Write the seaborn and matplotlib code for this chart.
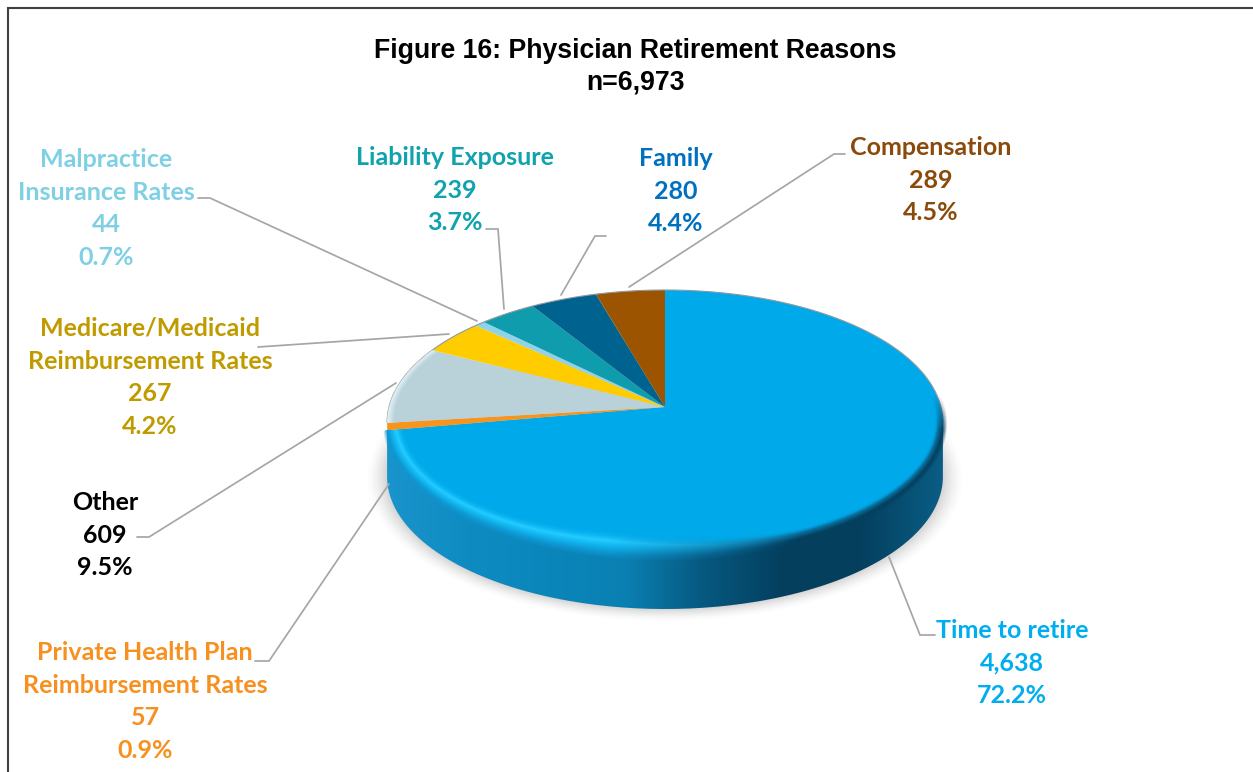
'''Figure 16 pie, drawn as a tilted 3D disc'''
import numpy as np
import matplotlib
matplotlib.use('Agg')
import matplotlib.pyplot as plt
from matplotlib.colors import to_rgb
from matplotlib.path import Path
from matplotlib.patches import PathPatch
from matplotlib.transforms import Transform
import seaborn as sns

#region data
TITLE = ['Figure 16: Physician Retirement Reasons', 'n=6,973']
REASONS = ['Time to retire', 'Private Health Plan\nReimbursement Rates', 'Other',
           'Medicare/Medicaid\nReimbursement Rates', 'Malpractice\nInsurance Rates',
           'Liability Exposure', 'Family', 'Compensation']
COUNTS = [4638, 57, 609, 267, 44, 239, 280, 289]
PERCENTS = ['72.2%', '0.9%', '9.5%', '4.2%', '0.7%', '3.7%', '4.4%', '4.5%']
SLICE_COLOURS = ['#00A9EA', '#F7941E', '#B9D2DA', '#FFCC00', '#8FD3E8', '#0F9DAD', '#00628F', '#9C5400']
TEXT_COLOURS = ['#00AEEF', '#F7901E', '#000000', '#BF9B00', '#7FD0E4', '#0FA3AE', '#0070C0', '#8A4A0B']
SIDE_COLOURS = ['#1A94CC', '#0E8CC2', '#0A86BB', '#0A80B2', '#06587F', '#043F5E', '#04405F', '#0A5D85']
#endregion

#region layout, all in reference pixels
W, H = 1253, 772
APEX = (665, 407)
RX, SY, K = 276.0, 130.7, 0.117
DEPTH = 54
LABEL_POS = [(1012, 630.5), (145, 652.5), (105, 502.5), (150, 328.5), (106, 159.5), (455, 157.5), (676, 158.5), (931, 147.5)]
LINE_STEP = 32.6
LEADERS = [[(935, 635), (920, 635), (889, 557)],
           [(255, 661), (269, 661), (389, 484)],
           [(137, 537), (149, 537), (396, 383)],
           [(258, 347), (449, 334)],
           [(198, 198), (210, 198), (477, 321)],
           [(486, 229), (498, 229), (504, 309)],
           [(606, 236), (595, 236), (561, 295)],
           [(845, 154), (834, 154), (629, 287)]]
#endregion


def fy(y):
    '''pixel row -> y up'''
    return H - y


def persp(x, y):
    '''unit disc -> pixels, tilted so that the near half looks bigger'''
    w = 1 + K * y
    return APEX[0] + RX * x / w, fy(APEX[1]) + SY * y / w


class Tilt(Transform):
    input_dims = 2
    output_dims = 2

    def transform_non_affine(self, values):
        values = np.asarray(values)
        px, py = persp(values[:, 0], values[:, 1])
        return np.column_stack([px, py])


def disc_coords(px, py):
    '''pixels -> unit disc'''
    u = (px - APEX[0]) / RX
    v = (py - fy(APEX[1])) / SY
    y = v / (1 - K * v)
    x = u * (1 + K * y)
    return x, y


def ramp(t, stops, colours):
    rgb = np.array([to_rgb(c) for c in colours])
    return np.dstack([np.interp(t, stops, rgb[:, i]) for i in range(3)])


sns.set_theme(style='white')
plt.rcParams['font.family'] = ['Lato', 'DejaVu Sans']

fig = plt.figure(figsize=(W / 100, H / 100), dpi=100, facecolor='white')
ax = fig.add_axes([0, 0, 1, 1])

tilt = Tilt()
wedges, _ = ax.pie(COUNTS, colors=sns.color_palette(SLICE_COLOURS), startangle=90, counterclock=False,
                   wedgeprops={'linewidth': 0, 'antialiased': True})
to_px = tilt + ax.transData
for wedge in wedges:
    wedge.set_transform(to_px)
    wedge.set_zorder(4)

ax.set_aspect('auto')
ax.set_xlim(0, W)
ax.set_ylim(0, H)
ax.set_xticks([])
ax.set_yticks([])

gx, gy = np.meshgrid(np.arange(360, 970) + 0.5, np.arange(fy(640), fy(270)) + 0.5)
extent = (360, 970, fy(640), fy(270))

#region shadow
sx, sy = disc_coords(gx, gy + DEPTH)
sr = np.hypot(sx, sy)
shadow = np.zeros(gx.shape + (4,))
shadow[..., :3] = 0.45
shadow[..., 3] = 0.3 * np.clip((1.075 - sr) / 0.075, 0, 1) ** 1.5
ax.imshow(shadow, extent=extent, origin='lower', aspect='auto', zorder=1)
#endregion

#region side of the disc
start, stop = np.pi + np.arcsin(K), 2 * np.pi - np.arcsin(K)
theta = np.linspace(start, stop, 200)
rim_x, rim_y = persp(np.cos(theta), np.sin(theta))
outline = np.concatenate([np.column_stack([rim_x, rim_y]),
                          np.column_stack([rim_x, rim_y - DEPTH])[::-1]])
side_patch = PathPatch(Path(outline), transform=ax.transData, facecolor='none', edgecolor='none')
ax.add_patch(side_patch)
side_cmap = sns.blend_palette(SIDE_COLOURS, as_cmap=True)
side = ax.imshow(np.linspace(0, 1, 256)[None, :], cmap=side_cmap, extent=(rim_x.min(), rim_x.max(), 0, H),
                 origin='lower', aspect='auto', zorder=2)
side.set_clip_path(side_patch)
#endregion

#region bevel on the top face, runs a few pixels over the rim to soften it
dx, dy = disc_coords(gx, gy)
radius = np.hypot(dx, dy)
ang = np.arctan2(dy, dx)
scale = 180 * np.sin(ang) ** 2 + 434 * np.cos(ang) ** 2
dist = (1 - radius) * scale
row = H - gy
mix = np.clip((gx - 610) / 190, 0, 1)
band = 26 * (1 - mix) + 13 * mix
t = np.clip(dist / band, 0, 1)
lit = ramp(t, [0, 0.3, 0.5, 1], ['#0E97D2', '#12B8F2', '#22CBFF', SLICE_COLOURS[0]])
dark = ramp(t, [0, 0.5, 1], ['#043F5E', '#0A6C9A', SLICE_COLOURS[0]])
bevel = np.zeros(gx.shape + (4,))
bevel[..., :3] = lit * (1 - mix[..., None]) + dark * mix[..., None]
fade_in = np.clip((dist + 7) / 7, 0, 1)
fade_out = 1 - np.clip((t - 0.55) / 0.45, 0, 1)
# clockwise from 12 o'clock, the first slice only
clock = np.mod(np.pi / 2 - ang, 2 * np.pi)
in_first = clock < 2 * np.pi * COUNTS[0] / sum(COUNTS)
bevel[..., 3] = fade_in * fade_out * np.clip((row - 395) / 35, 0, 1) * in_first
ax.imshow(bevel, extent=extent, origin='lower', aspect='auto', zorder=5)

pale = np.zeros(gx.shape + (4,))
pale[..., :3] = to_rgb('#E4F3F7')
pale[..., 3] = 1 - np.clip(dist / 11, 0, 1)
im = ax.imshow(pale, extent=extent, origin='lower', aspect='auto', zorder=5)
im.set_clip_path(wedges[2])

# thin edge on the far half of the rim
back = np.linspace(-np.arcsin(K), np.pi + np.arcsin(K), 200)
back_x, back_y = persp(np.cos(back), np.sin(back))
ax.plot(back_x, back_y, color='#8F9AA0', linewidth=0.8, zorder=4.5)
#endregion

ax.set_xlim(0, W)
ax.set_ylim(0, H)

#region leader lines
for points in LEADERS:
    xs = [p[0] for p in points]
    ys = [fy(p[1]) for p in points]
    ax.plot(xs, ys, color='#A6A6A6', linewidth=1.25, solid_joinstyle='miter', zorder=6)
#endregion

#region labels
for name, count, pct, colour, (cx, cy) in zip(REASONS, COUNTS, PERCENTS, TEXT_COLOURS, LABEL_POS):
    lines = name.split('\n') + [format(count, ','), pct]
    for i, line in enumerate(lines):
        ax.text(cx, fy(cy + i * LINE_STEP), line, color=colour, fontsize=18, fontweight='bold',
                ha='center', va='center', zorder=7)

ax.text(635.5, fy(51), TITLE[0], fontsize=19.2, fontweight='bold', color='black', ha='center', va='center',
        family=['Liberation Sans'])
ax.text(635.5, fy(82), TITLE[1], fontsize=19.2, fontweight='bold', color='black', ha='center', va='center',
        family=['Liberation Sans'])
#endregion

ax.plot([7.5, 7.5, W], [0, fy(8), fy(8)], color='#404040', linewidth=1.5, solid_joinstyle='miter', zorder=8)

fig.savefig('out.png', dpi=100, facecolor='white')
